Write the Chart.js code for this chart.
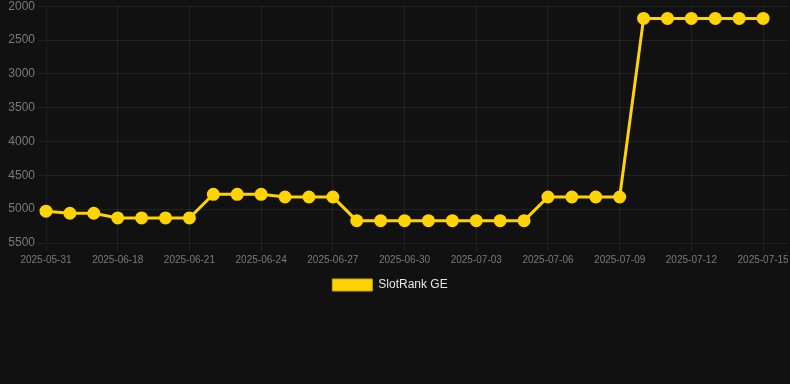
<!DOCTYPE html>
<html>
<head>
<meta charset="utf-8">
<script src="https://cdn.jsdelivr.net/npm/chart.js@4/dist/chart.umd.min.js"></script>
<style>
  html, body { margin: 0; padding: 0; background: #111111; overflow: hidden; }
  #wrap { width: 796px; height: 305px; margin-top: -4px; }
</style>
</head>
<body>
<div id="wrap"><canvas id="rankChart"></canvas></div>
<script>
// rank history, one point per day (null = no data yet)
const dates = [
    '2025-05-31', '2025-06-16', '2025-06-17', '2025-06-18', '2025-06-19', '2025-06-20',
    '2025-06-21', '2025-06-22', '2025-06-23', '2025-06-24', '2025-06-25', '2025-06-26',
    '2025-06-27', '2025-06-28', '2025-06-29', '2025-06-30', '2025-07-01', '2025-07-02',
    '2025-07-03', '2025-07-04', '2025-07-05', '2025-07-06', '2025-07-07', '2025-07-08',
    '2025-07-09', '2025-07-10', '2025-07-11', '2025-07-12', '2025-07-13', '2025-07-14',
    '2025-07-15', '2025-07-16'
];
const rankGE = [
    5030, 5060, 5060, 5130, 5130, 5130,
    5130, 4780, 4780, 4780, 4820, 4820,
    4820, 5170, 5170, 5170, 5170, 5170,
    5170, 5170, 5170, 4820, 4820, 4820,
    4820, 2180, 2180, 2180, 2180, 2180,
    2180, null
];
const seriesName = 'SlotRank GE';

const gridColor = 'rgba(255, 255, 255, 0.07)';
const tickColor = '#7a7a7a';
const lineColor = '#ffd400';

// canvas is a bit wider than the window, pull the legend back to the middle
const legendShift = {
    id: 'legendShift',
    afterLayout: function (chart) {
        chart.legend.left -= 8;
        chart.legend.right -= 8;
    }
};

const ctx = document.getElementById('rankChart');
new Chart(ctx, {
    type: 'line',
    data: {
        labels: dates,
        datasets: [{
            label: seriesName,
            data: rankGE,
            borderColor: lineColor,
            backgroundColor: lineColor,
            borderWidth: 3,
            pointRadius: 5,
            pointHoverRadius: 6,
            tension: 0
        }]
    },
    plugins: [legendShift],
    options: {
        responsive: true,
        maintainAspectRatio: false,
        animation: false,
        plugins: {
            legend: {
                position: 'bottom',
                labels: {
                    color: '#e6e6e6',
                    font: { family: 'Liberation Sans, Arial, sans-serif', size: 12 },
                    boxWidth: 40,
                    boxHeight: 12,
                    generateLabels: function (chart) {
                        const items = Chart.defaults.plugins.legend.labels.generateLabels(chart);
                        items.forEach(function (item) {
                            item.lineWidth = 1;
                            item.strokeStyle = '#c9a600';
                        });
                        return items;
                    }
                }
            },
            tooltip: { enabled: false }
        },
        scales: {
            x: {
                grid: { color: gridColor },
                ticks: {
                    color: tickColor,
                    font: { family: 'Liberation Sans, Arial, sans-serif', size: 10 },
                    maxRotation: 0,
                    autoSkip: true
                }
            },
            y: {
                reverse: true,
                min: 2000,
                max: 5500,
                grid: { color: gridColor },
                ticks: {
                    stepSize: 500,
                    color: tickColor,
                    font: { family: 'Liberation Sans, Arial, sans-serif', size: 12 },
                    callback: function (value) {
                        return String(value);
                    }
                },
                afterFit: function (scale) {
                    scale.width = 46;
                }
            }
        }
    }
});
</script>
</body>
</html>
